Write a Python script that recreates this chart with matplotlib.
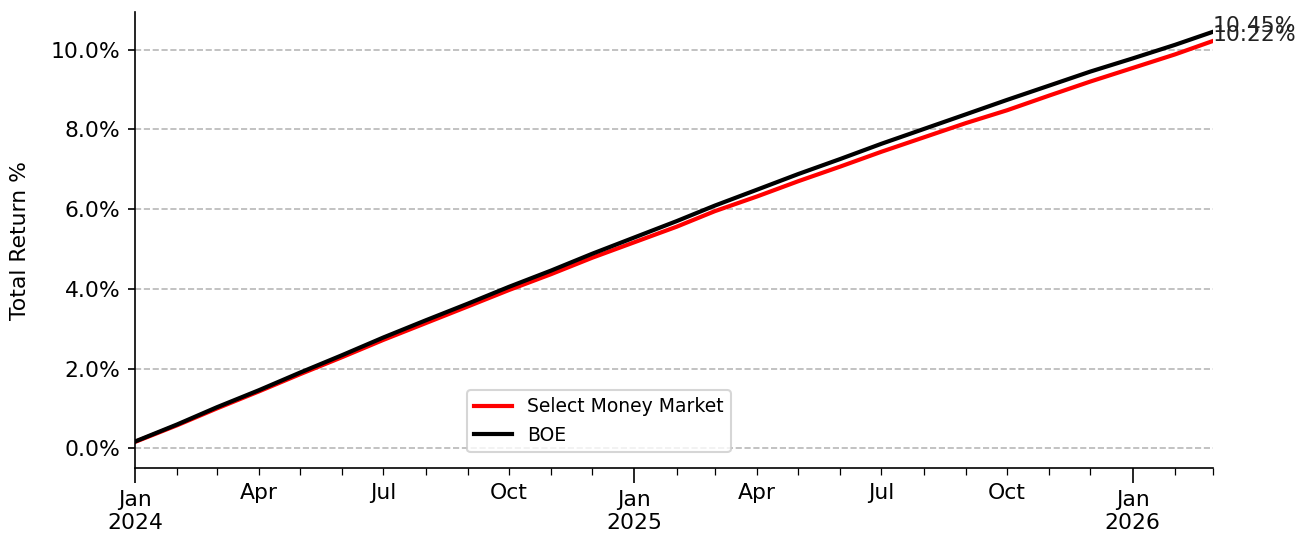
import matplotlib
matplotlib.use("Agg")
import matplotlib.dates as mdates
import matplotlib.pyplot as plt
import pandas as pd
from matplotlib.ticker import FuncFormatter, PercentFormatter


months = pd.date_range("2024-01-01", "2026-03-01", freq="MS")

# cumulative total return, %
select_mm = [
    0.16, 0.58, 1.00, 1.43, 1.86, 2.29, 2.72, 3.14, 3.56, 3.97, 4.37, 4.78,
    5.17, 5.56, 5.95, 6.32, 6.70, 7.07, 7.44, 7.80, 8.16, 8.48, 8.85, 9.20,
    9.54, 9.88, 10.22,
]
boe = [
    0.17, 0.60, 1.03, 1.46, 1.90, 2.34, 2.78, 3.21, 3.63, 4.05, 4.46, 4.88,
    5.29, 5.70, 6.09, 6.49, 6.88, 7.26, 7.64, 8.01, 8.38, 8.74, 9.10, 9.45,
    9.78, 10.12, 10.45,
]


def minor_label(x, pos):
    d = mdates.num2date(x)
    if d.month in (4, 7, 10):
        return d.strftime("%b")
    return ""


def major_label(x, pos):
    d = mdates.num2date(x)
    return d.strftime("%b\n%Y")


plt.rcParams["font.size"] = 10.5

fig, ax = plt.subplots(figsize=(1310 / 150, 537 / 150), dpi=150)
fig.subplots_adjust(left=0.103, right=0.926, top=0.978, bottom=0.128)

ax.plot(months, select_mm, color="red", lw=2, label="Select Money Market")
ax.plot(months, boe, color="black", lw=2, label="BOE")

for series in (boe, select_mm):
    ax.text(months[-1], series[-1], f"{series[-1]:.2f}%",
            ha="left", va="baseline", fontsize=10.5, color="#222222")

ax.set_xlim(months[0], months[-1])
ax.set_ylim(-0.5, 10.95)
ax.yaxis.set_major_formatter(PercentFormatter(decimals=1))
ax.set_ylabel("Total Return %", labelpad=10)

ax.xaxis.set_major_locator(mdates.MonthLocator(bymonth=1))
ax.xaxis.set_minor_locator(mdates.MonthLocator(bymonth=range(2, 13)))
ax.xaxis.set_major_formatter(FuncFormatter(major_label))
ax.xaxis.set_minor_formatter(FuncFormatter(minor_label))
ax.tick_params(axis="x", which="major", length=7)
ax.tick_params(axis="x", which="minor", length=3.5)

ax.grid(axis="y", linestyle="--", alpha=0.9)
ax.set_axisbelow(True)
for spine in ["top", "right"]:
    ax.spines[spine].set_visible(False)

ax.legend(loc="lower left", bbox_to_anchor=(0.308, 0.035),
          borderaxespad=0, fontsize=9)

plt.savefig("out.png", dpi=150)
plt.close()
